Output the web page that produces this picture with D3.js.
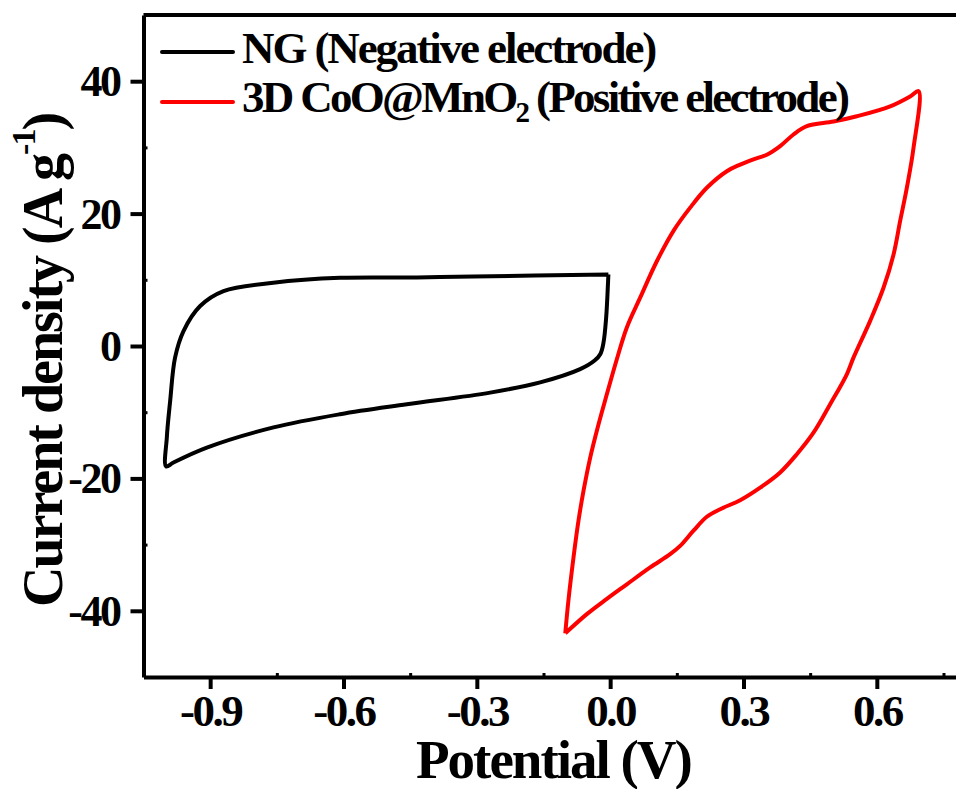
<!DOCTYPE html>
<html>
<head>
<meta charset="utf-8">
<script src="https://cdn.jsdelivr.net/npm/d3@7"></script>
<style>
  html, body { margin: 0; padding: 0; background: #fff; }
  svg { display: block; }
  text { font-family: "Liberation Serif", "Times New Roman", serif; font-weight: bold; fill: #000; }
</style>
</head>
<body>
<svg id="chart" width="956" height="789"></svg>
<script>
// ---- Data ----
const ngPotential = [-0.004, -0.005, -0.009, -0.015, -0.022, -0.035, -0.0675, -0.1575, -0.27, -0.4575, -0.6075, -0.7575, -0.9075, -0.9825, -0.999,
                     -0.9975, -0.99, -0.979, -0.96, -0.9225, -0.87, -0.758, -0.6075, -0.435, -0.308, -0.004];
const ngCurrent   = [10.8, 9.3, 4.3, 0.5, -1.2, -2.2, -3.5, -5.5, -7.04, -8.8, -10.3, -12.3, -15.35, -17.6, -18.2,
                     -13.8, -8.3, -1.76, 2.26, 6.04, 8.3, 9.56, 10.3, 10.35, 10.5, 10.8];

const coPotential = [-0.101, -0.094, -0.0825, -0.0713, -0.06, -0.045, -0.026, -0.0075, 0.015, 0.0375, 0.0675, 0.105, 0.1425, 0.18, 0.2175, 0.2625, 0.2925, 0.3225, 0.3525, 0.3825, 0.4125, 0.4425, 0.5025, 0.555, 0.63, 0.675, 0.694,
                     0.6825, 0.6675, 0.6525, 0.6375, 0.615, 0.585, 0.5475, 0.5325, 0.495, 0.4575, 0.42, 0.3825, 0.3375, 0.2925, 0.2475, 0.2175, 0.1875, 0.1575, 0.135, 0.09, 0.0375, -0.0075, -0.0525, -0.101];
const coCurrent   = [-43.4, -38.5, -31.95, -26.4, -21.9, -16.9, -11.8, -7.3, -2.0, 2.8, 7.3, 12.8, 17.4, 20.9, 23.9, 26.4, 27.4, 28.2, 28.9, 30.2, 31.95, 33.2, 33.9, 34.7, 36.2, 37.7, 38.5,
                     29.9, 23.9, 18.9, 13.8, 8.8, 3.8, -1.76, -4.27, -8.8, -13.1, -16.35, -19.1, -21.4, -23.3, -24.65, -25.8, -27.9, -30.2, -31.45, -33.45, -36.0, -38.2, -40.5, -43.4];

const xTicks = [-0.9, -0.6, -0.3, 0.0, 0.3, 0.6];
const xTickLabels = ["-0.9", "-0.6", "-0.3", "0.0", "0.3", "0.6"];
const xMinorTicks = [-0.75, -0.45, -0.15, 0.15, 0.45, 0.75];
const yTicks = [-40, -20, 0, 20, 40];
const yTickLabels = ["-40", "-20", "0", "20", "40"];
const yMinorTicks = [-30, -10, 10, 30];

const seriesNames = ["NG (Negative electrode)", "3D CoO@MnO2 (Positive electrode)"];
const seriesColors = ["#000000", "#ff0000"];

// ---- Layout ----
const svg = d3.select("#chart");
const plotLeft = 143.5, plotBottom = 677, plotTop = 15;
const pxPerVolt = 444.44;

const x = d3.scaleLinear().domain([-1.05, 0.8]).range([plotLeft, plotLeft + 1.85 * pxPerVolt]);
const y = d3.scaleLinear().domain([-50, 50]).range([plotBottom, plotTop]);

// top frame line
svg.append("line")
  .attr("x1", x(-1.05)).attr("x2", x(0.8))
  .attr("y1", y(50)).attr("y2", y(50))
  .attr("stroke", "#000").attr("stroke-width", 4);

// minor ticks (inward)
svg.append("g").attr("transform", `translate(0,${plotBottom})`)
  .call(d3.axisBottom(x).tickValues(xMinorTicks).tickSize(-4).tickFormat(""))
  .call(g => g.select(".domain").remove())
  .selectAll("line").attr("stroke-width", 3);
svg.append("g").attr("transform", `translate(${plotLeft},0)`)
  .call(d3.axisLeft(y).tickValues(yMinorTicks).tickSize(-4).tickFormat(""))
  .call(g => g.select(".domain").remove())
  .selectAll("line").attr("stroke-width", 3);

// x axis
const xAxis = svg.append("g").attr("transform", `translate(0,${plotBottom})`)
  .call(d3.axisBottom(x).tickValues(xTicks).tickSize(12).tickSizeOuter(0)
        .tickFormat((d, i) => xTickLabels[i]));
xAxis.select(".domain").attr("stroke-width", 4);
xAxis.selectAll(".tick line").attr("stroke-width", 4);
xAxis.selectAll(".tick text")
  .attr("y", 49).attr("dy", 0)
  .attr("font-size", 45).attr("letter-spacing", -2.5)
  .style("font-family", '"Liberation Serif", "Times New Roman", serif')
  .style("font-weight", "bold").attr("fill", "#000");

// y axis
const yAxis = svg.append("g").attr("transform", `translate(${plotLeft},0)`)
  .call(d3.axisLeft(y).tickValues(yTicks).tickSize(13).tickSizeOuter(0)
        .tickFormat((d, i) => yTickLabels[i]));
yAxis.select(".domain").attr("stroke-width", 4);
yAxis.selectAll(".tick line").attr("stroke-width", 4);
yAxis.selectAll(".tick text")
  .attr("x", -24).attr("dy", "0.33em")
  .attr("font-size", 44).attr("letter-spacing", -2.5)
  .style("font-family", '"Liberation Serif", "Times New Roman", serif')
  .style("font-weight", "bold").attr("fill", "#000");

// curves
const line = d3.line().x(d => x(d[0])).y(d => y(d[1])).curve(d3.curveCatmullRom.alpha(0.5));
const ngData = ngPotential.map((v, i) => [v, ngCurrent[i]]);
const coData = coPotential.map((v, i) => [v, coCurrent[i]]);
svg.append("path").datum(ngData).attr("d", line)
  .attr("fill", "none").attr("stroke", seriesColors[0]).attr("stroke-width", 4).attr("stroke-linejoin", "round");
svg.append("path").datum(coData).attr("d", line)
  .attr("fill", "none").attr("stroke", seriesColors[1]).attr("stroke-width", 4).attr("stroke-linejoin", "round");

// legend
const legendRows = [52, 102];
const legendBase = [63, 112];
seriesNames.forEach((name, i) => {
  svg.append("line").attr("x1", 162).attr("x2", 233)
    .attr("y1", legendRows[i]).attr("y2", legendRows[i])
    .attr("stroke", seriesColors[i]).attr("stroke-width", 4).attr("stroke-linecap", "round");
  const t = svg.append("text").attr("x", 242).attr("y", legendBase[i])
    .attr("font-size", 45).attr("letter-spacing", -2.5);
  if (i === 0) {
    t.attr("letter-spacing", -2.1).text(name);
  } else {
    t.attr("letter-spacing", -2.7);
    t.append("tspan").text("3D CoO@MnO");
    t.append("tspan").attr("font-size", 29).attr("dy", 10).text("2");
    t.append("tspan").attr("dy", -10).text(" (Positive electrode)");
  }
});

// axis titles
svg.append("text").attr("x", 416).attr("y", 778)
  .attr("font-size", 55).attr("letter-spacing", -2)
  .text("Potential (V)");

const yt = svg.append("text")
  .attr("transform", "translate(62,607) rotate(-90)")
  .attr("x", 0).attr("y", 0)
  .attr("font-size", 56).attr("letter-spacing", -2);
yt.append("tspan").text("Current density (A g");
yt.append("tspan").attr("font-size", 34).attr("dy", -27).text("-1");
yt.append("tspan").attr("dy", 27).text(")");
</script>
</body>
</html>
